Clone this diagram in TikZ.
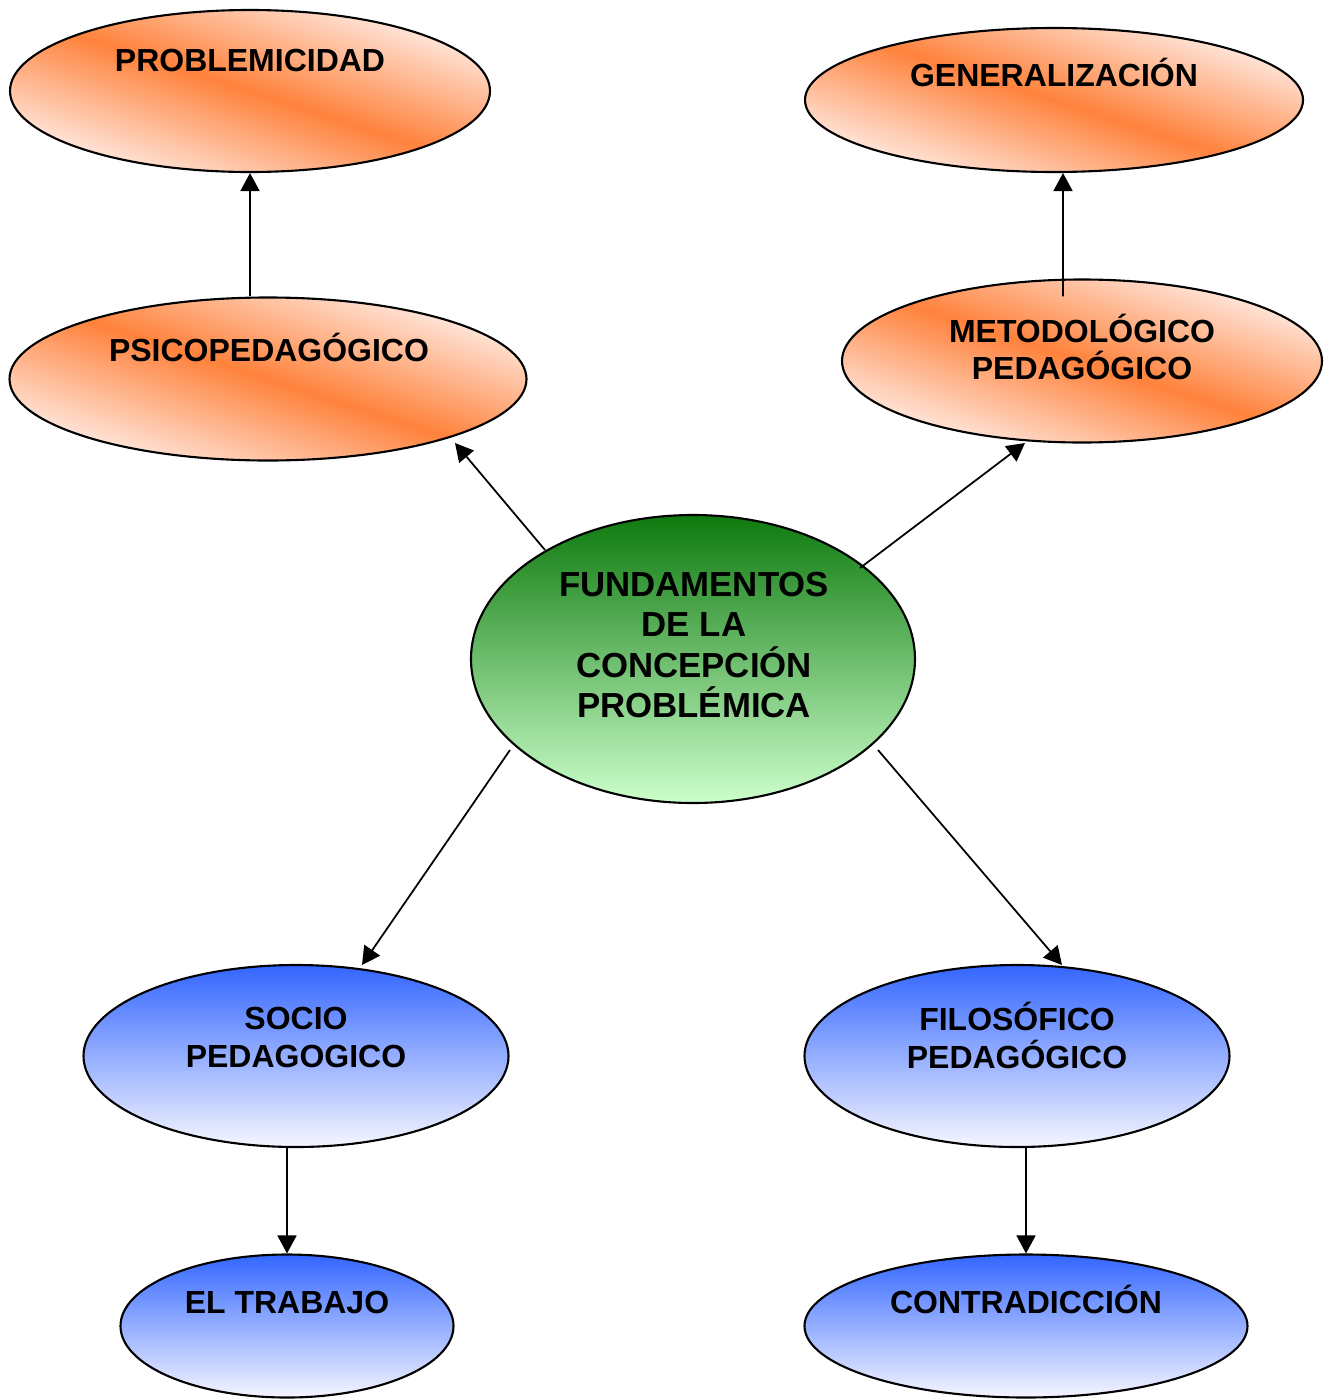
\documentclass[tikz,border=0pt]{standalone}
\usepackage{fontspec}
\setmainfont{Liberation Sans}
\usetikzlibrary{shapes.geometric, arrows.meta, calc}
\definecolor{orng}{RGB}{255,130,60}
\definecolor{orngpale}{RGB}{255,238,232}
\definecolor{grntop}{RGB}{14,122,14}
\definecolor{grnbot}{RGB}{204,255,204}
\definecolor{blutop}{RGB}{51,102,255}
\definecolor{blubot}{RGB}{246,246,255}
\tikzstyle{ell} = [ellipse, draw=black, line width=0.6pt, inner sep=0pt]
\tikzstyle{orangeell} = [ell, top color=orngpale, bottom color=orngpale, middle color=orng, shading angle=-18]
\tikzstyle{greenell} = [ell, top color=grntop, bottom color=grnbot]
\tikzstyle{blueell} = [ell, top color=blutop, bottom color=blubot]
\tikzstyle{txt} = [inner sep=0pt, align=center, font=\bfseries\fontsize{9.1}{10.8}\selectfont]
\tikzstyle{arrow} = [line width=0.5pt, -{Triangle[length=0.18cm, width=0.19cm]}]

\begin{document}
\begin{tikzpicture}
\useasboundingbox (0,0) rectangle (13.32,-14.00);

% Centre
\node (fund) [greenell, minimum width=4.44cm, minimum height=2.88cm] at (6.93,-6.59) {};
\node (fund-t) [txt, font=\bfseries\fontsize{9.9}{11.4}\selectfont] at (6.94,-6.45) {FUNDAMENTOS\\DE LA\\CONCEPCIÓN\\PROBLÉMICA};

% Upper left
\node (psico) [orangeell, minimum width=5.17cm, minimum height=1.63cm] at (2.68,-3.79) {};
\node (psico-t) [txt, anchor=base] at (2.69,-3.61) {PSICOPEDAGÓGICO};
\node (problem) [orangeell, minimum width=4.80cm, minimum height=1.62cm] at (2.50,-0.91) {};
\node (problem-t) [txt, anchor=base] at (2.50,-0.71) {PROBLEMICIDAD};

% Upper right
\node (metodo) [orangeell, minimum width=4.80cm, minimum height=1.63cm] at (10.82,-3.61) {};
\node (metodo-t) [txt] at (10.82,-3.47) {METODOLÓGICO\\PEDAGÓGICO};
\node (gen) [orangeell, minimum width=4.98cm, minimum height=1.44cm] at (10.54,-1.00) {};
\node (gen-t) [txt, anchor=base] at (10.54,-0.86) {GENERALIZACIÓN};

% Lower left
\node (socio) [blueell, minimum width=4.25cm, minimum height=1.82cm] at (2.96,-10.56) {};
\node (socio-t) [txt] at (2.96,-10.37) {SOCIO\\PEDAGOGICO};
\node (trabajo) [blueell, minimum width=3.33cm, minimum height=1.43cm] at (2.87,-13.26) {};
\node (trabajo-t) [txt, anchor=base] at (2.87,-13.13) {EL TRABAJO};

% Lower right
\node (filo) [blueell, minimum width=4.25cm, minimum height=1.82cm] at (10.17,-10.56) {};
\node (filo-t) [txt] at (10.17,-10.35) {FILOSÓFICO\\PEDAGÓGICO};
\node (contra) [blueell, minimum width=4.43cm, minimum height=1.43cm] at (10.26,-13.26) {};
\node (contra-t) [txt, anchor=base] at (10.26,-13.13) {CONTRADICCIÓN};

% Arrows from the centre
\draw [arrow] ($(fund.center)+(-1.48,1.09)$) -- ($(psico.center)+(1.87,-0.64)$);
\draw [arrow] ($(fund.center)+(1.67,0.91)$) -- ($(metodo.center)+(-0.57,-0.82)$);
\draw [arrow] ($(fund.center)+(-1.83,-0.91)$) -- ($(socio.center)+(0.66,0.91)$);
\draw [arrow] ($(fund.center)+(1.85,-0.91)$) -- ($(filo.center)+(0.45,0.91)$);

% Arrows within each branch
\draw [arrow] (problem.south |- psico.north) -- (problem.south);
\draw [arrow] ($(metodo.north)+(-0.19,-0.18)$) -- ($(gen.south)+(0.09,0)$);
\draw [arrow] (trabajo.north |- socio.south) -- (trabajo.north);
\draw [arrow] (contra.north |- filo.south) -- (contra.north);

\end{tikzpicture}
\end{document}
